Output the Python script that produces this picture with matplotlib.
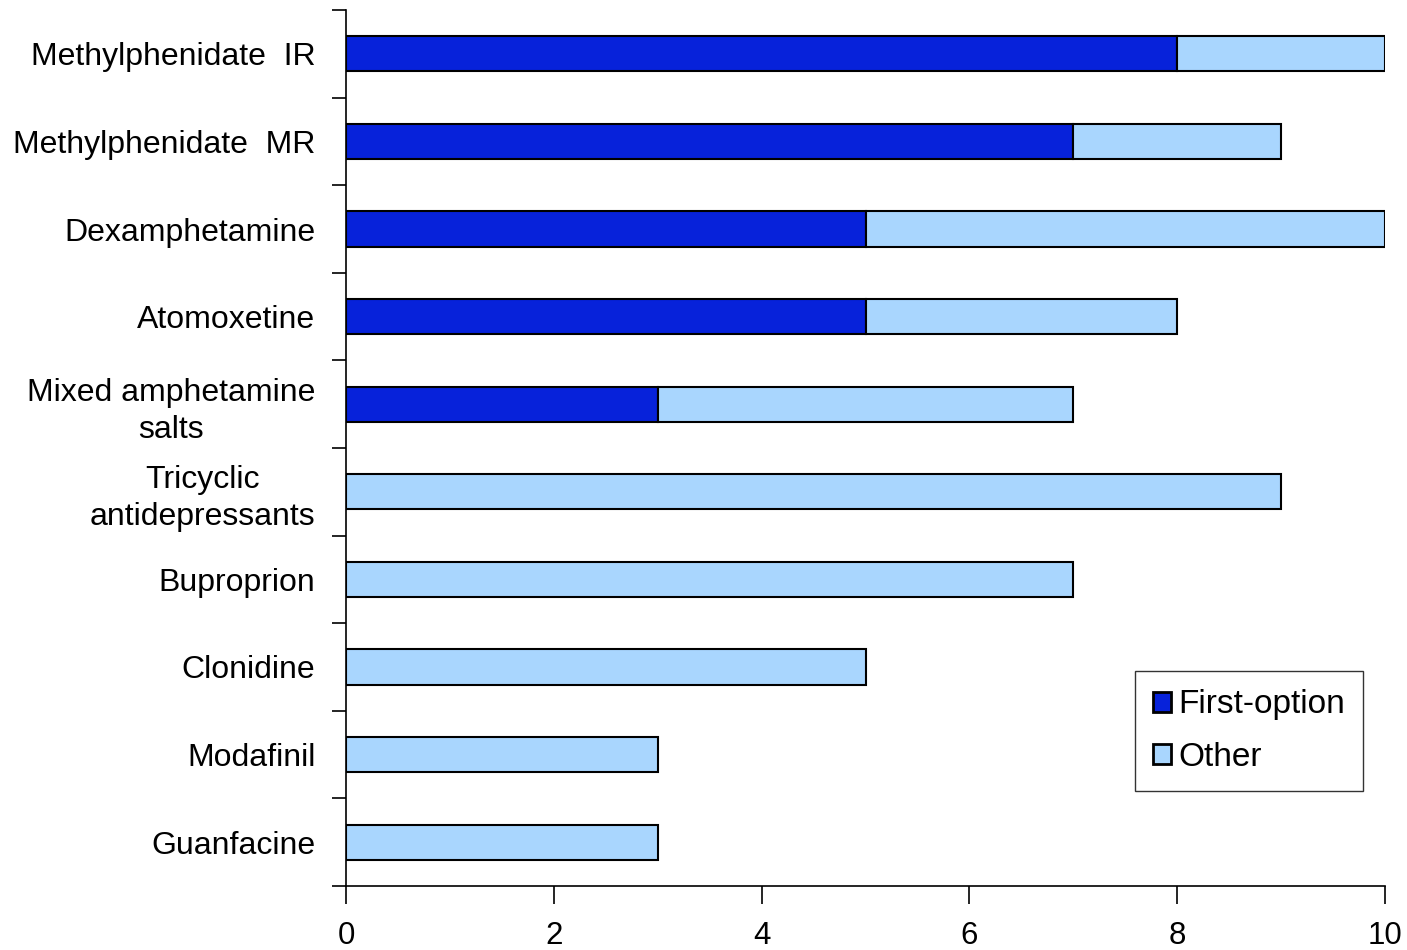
import numpy as np
import matplotlib
matplotlib.use("Agg")
from matplotlib import pyplot as plt
from matplotlib.ticker import FixedLocator, NullFormatter

plt.rcParams['font.family'] = ['Liberation Sans', 'DejaVu Sans']

drugs = ["Methylphenidate  IR", "Methylphenidate  MR", "Dexamphetamine", "Atomoxetine",
         "Mixed amphetamine\nsalts", "Tricyclic\nantidepressants", "Buproprion",
         "Clonidine", "Modafinil", "Guanfacine"]
first_option = [8, 7, 5, 5, 3, 0, 0, 0, 0, 0]
other = [2, 2, 5, 3, 4, 9, 7, 5, 3, 3]
xticks = [0, 2, 4, 6, 8, 10]

dark = "#0722DA"
light = "#A9D6FE"

fig = plt.figure(figsize=(14.07, 9.5), dpi=100)
ax = fig.add_axes([346 / 1407, 1 - 886 / 950, (1385 - 346) / 1407, (886 - 10) / 950])

y = np.arange(len(drugs))
ax.barh(y, first_option, height=0.4, color=dark, edgecolor="black", linewidth=1.5, label="First-option")
ax.barh(y, other, left=first_option, height=0.4, color=light, edgecolor="black", linewidth=1.5, label="Other")

ax.set_xlim(0, 10)
ax.set_ylim(len(drugs) - 0.5, -0.5)
ax.set_xticks(xticks)
ax.set_xticklabels([str(t) for t in xticks], fontsize=22.5)
ax.set_yticks(y)
ax.set_yticklabels(drugs, fontsize=23, linespacing=1.3)
ax.tick_params(axis='y', length=0, pad=22)
ax.yaxis.set_minor_locator(FixedLocator(np.arange(-0.5, len(drugs), 1)))
ax.yaxis.set_minor_formatter(NullFormatter())
ax.tick_params(axis='y', which='minor', length=10, width=1.2)
ax.tick_params(axis='x', length=13, width=1.2, pad=12)
for lbl in ax.get_yticklabels():
    lbl.set_horizontalalignment('right')
    lbl.set_multialignment('center')

for s in ['top', 'right']:
    ax.spines[s].set_visible(False)
for s in ['left', 'bottom']:
    ax.spines[s].set_linewidth(1.2)

leg = ax.legend(loc='lower right', bbox_to_anchor=(0.979, 0.108), fontsize=24, frameon=True, fancybox=False,
                edgecolor="black", handlelength=0.55, handleheight=0.55, handletextpad=0.2,
                labelspacing=0.65, borderpad=0.55, borderaxespad=0)
leg.get_frame().set_linewidth(1.0)
for h in leg.legend_handles:
    h.set_linewidth(2.0)

plt.savefig("out.png", dpi=100)
